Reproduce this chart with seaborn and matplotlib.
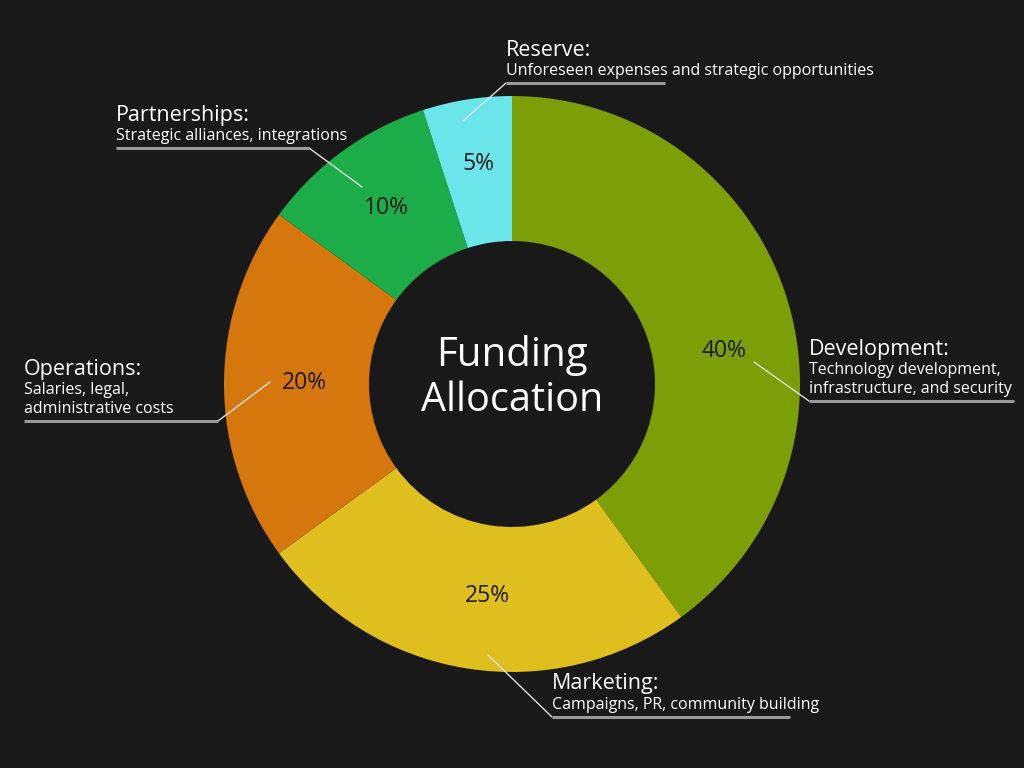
import matplotlib
matplotlib.use("Agg")
import matplotlib.pyplot as plt
import seaborn as sns
import numpy as np

categories = ["Development", "Marketing", "Operations", "Partnerships", "Reserve"]
values = [40, 25, 20, 10, 5]
descriptions = [
    ["Technology development,", "infrastructure, and security"],
    ["Campaigns, PR, community building"],
    ["Salaries, legal,", "administrative costs"],
    ["Strategic alliances, integrations"],
    ["Unforeseen expenses and strategic opportunities"],
]
center_title = ["Funding", "Allocation"]

colors = ["#7c9e06", "#dfbf1e", "#d5770c", "#1cad48", "#6ae6ea"]
BG = "#191919"

sns.set_theme(style="dark")
plt.rcParams["font.family"] = ["Open Sans", "DejaVu Sans"]

W, H = 1024, 768
fig = plt.figure(figsize=(W / 100, H / 100), dpi=100, facecolor=BG)
ax = fig.add_axes([0, 0, 1, 1])
ax.set_facecolor(BG)

def Y(y):
    return H - y

cx, cy = 512, Y(384)
R_out, R_in = 288, 143
wedges, _ = ax.pie(values, colors=colors, startangle=90, counterclock=False,
                   radius=R_out, center=(cx, cy),
                   wedgeprops=dict(width=R_out - R_in, linewidth=0),
                   frame=True)
ax.set_xlim(0, W)
ax.set_ylim(0, H)
ax.set_aspect("equal")
ax.axis("off")

# percent labels (pixel positions)
pct_pos = [(724, 351), (487, 596), (304, 383), (386, 208), (478, 164)]
for v, (px, py) in zip(values, pct_pos):
    ax.text(px, Y(py), f"{v}%", ha="center", va="center", fontsize=16.5,
            color="#1a1a1a")

ax.text(cx, Y(355), center_title[0], ha="center", va="center", fontsize=29, color="white")
ax.text(cx, Y(401), center_title[1], ha="center", va="center", fontsize=28.5, color="white")

# leader lines: start point, elbow point, end of horizontal line
leaders = [
    ((754, 362), (809, 401), 1014),
    ((488, 655), (552, 717), 790),
    ((270, 382), (218, 421), 24),
    ((362, 187), (309, 148), 116),
    ((463, 121), (506, 83), 665),
]
for i, (s, e, hx) in enumerate(leaders):
    ax.plot([s[0], e[0]], [Y(s[1]), Y(e[1])], color="#e0e0e0", lw=1.0,
            solid_capstyle="round")
    ax.plot([e[0], hx], [Y(e[1]), Y(e[1])], color="#9a9a9a", lw=2.2,
            solid_capstyle="butt")
    tx = min(e[0], hx)
    ly = e[1]
    lines = descriptions[i]
    n = len(lines)
    for j, ln in enumerate(lines):
        by = ly - 8 - 18.5 * (n - 1 - j)
        ax.text(tx, Y(by), ln, ha="left", va="baseline", fontsize=11.5,
                color="white")
    tby = ly - 8 - 18.5 * (n - 1) - 19.5
    ax.text(tx, Y(tby), categories[i] + ":", ha="left", va="baseline",
            fontsize=15.5, color="white")

fig.savefig("out.png", dpi=100, facecolor=BG)
